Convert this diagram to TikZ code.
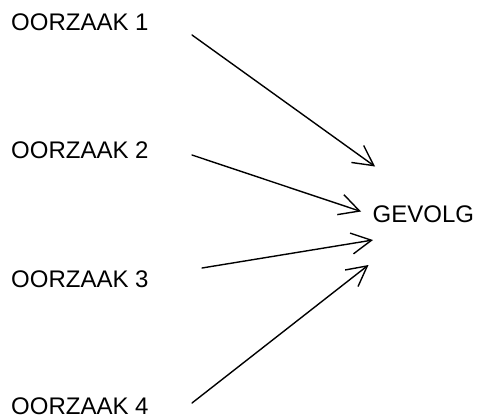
\documentclass[tikz,border=0pt]{standalone}
\usepackage{fontspec}
\setmainfont{Liberation Sans}
\usetikzlibrary{arrows.meta}

\begin{document}
\begin{tikzpicture}[x=1pt,y=1pt,>={Straight Barb[length=20pt,width=21pt]},
    oorzaak/.style={anchor=base west,inner sep=0pt,font=\fontsize{24}{28}\selectfont},
    pijl/.style={->,line width=1.4pt,line cap=round,line join=round}]
      \useasboundingbox (0,0) rectangle (478,-417);
      \node[oorzaak] (o1) at (11,-31) {OORZAAK 1};
      \node[oorzaak] (o2) at (11,-158) {OORZAAK 2};
      \node[oorzaak] (o3) at (11,-287) {OORZAAK 3};
      \node[oorzaak] (o4) at (11,-414) {OORZAAK 4};
      \node[oorzaak] (gevolg) at (372.5,-222) {GEVOLG};
      % begin en eind van de pijlen
      \coordinate (s1) at (192,-35);
      \coordinate (s2) at (192,-155);
      \coordinate (s3) at (202,-268);
      \coordinate (s4) at (192,-403);
      \coordinate (e1) at (375,-166.5);
      \coordinate (e2) at (361,-211.5);
      \coordinate (e3) at (373,-240);
      \coordinate (e4) at (368.5,-265);
      \draw[pijl] (s1) -- (e1);
      \draw[pijl] (s2) -- (e2);
      \draw[pijl] (s3) -- (e3);
      \draw[pijl] (s4) -- (e4);
    \end{tikzpicture}
\end{document}
